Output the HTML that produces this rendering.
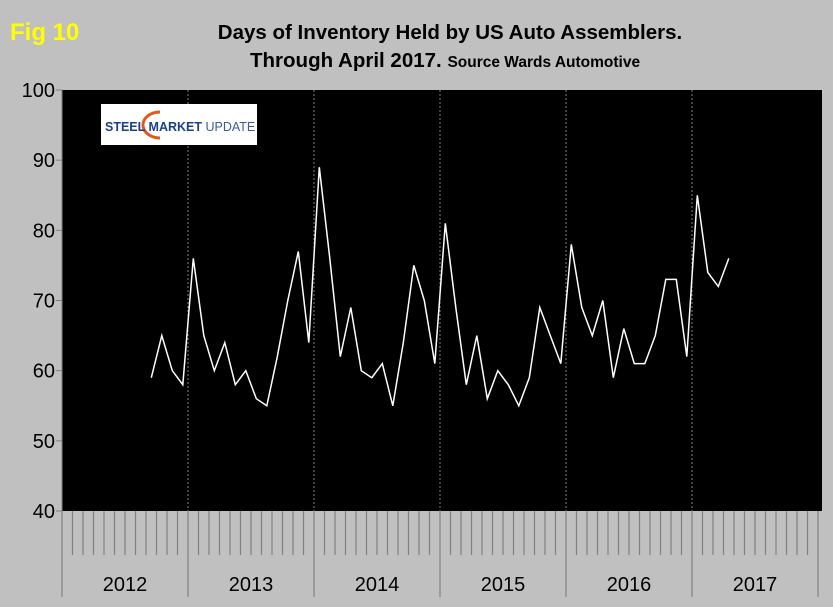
<!DOCTYPE html>
<html><head><meta charset="utf-8"><style>
body{margin:0;background:#c0c0c0;}
svg{display:block;font-family:"Liberation Sans",Arial,sans-serif;}
</style></head><body>
<svg id="chart" width="833" height="607">
<rect x="0" y="0" width="833" height="607" fill="#c0c0c0"/>
<text x="10" y="40" font-size="24" font-weight="bold" fill="#ffff00">Fig 10</text>
<text x="450" y="39" font-size="20.5" font-weight="bold" text-anchor="middle" fill="#000">Days of Inventory Held by US Auto Assemblers.</text>
<text x="250" y="67" font-size="20.5" font-weight="bold" fill="#000">Through April 2017. <tspan font-size="15.5">Source Wards Automotive</tspan></text>
<rect x="62" y="90" width="760" height="421" fill="#000"/>
<g id="yaxis"></g>
<g id="xaxis"></g>
<g>
<rect x="101" y="104" width="156" height="41" fill="#fff"/>
<path d="M160 112 A17 13 0 1 0 160 138" fill="none" stroke="#e05a1e" stroke-width="3"/>
<text x="105" y="131" font-size="12.5" font-weight="bold" fill="#1b3f8f">STEEL <tspan font-weight="bold">MARKET</tspan> <tspan font-weight="normal" fill="#3a5aa8">UPDATE</tspan></text>
</g>
<polyline id="series" fill="none" stroke="#fff" stroke-width="1.5"/>
</svg>
<script>
const years = ["2012","2013","2014","2015","2016","2017"];
const yTicks = [40,50,60,70,80,90,100];
const startMonth = 8; // Sep 2012 index
const values = [59,65,60,58, 76,65,60,64,58,60,56,55,62,70,77,64, 89,76,62,69,60,59,61,55,64,75,70,61, 81,69,58,65,56,60,58,55,59,69,65,61, 78,69,65,70,59,66,61,61,65,73,73,62, 85,74,72,76];
const NS="http://www.w3.org/2000/svg";
const x0=62, mw=10.5, yTop=90, yBot=511, vMin=40, vMax=100;
const yS=v=>yBot-(v-vMin)/(vMax-vMin)*(yBot-yTop);
const xS=i=>x0+mw*(i+0.5);
const ya=document.getElementById('yaxis'), xa=document.getElementById('xaxis');
function mk(tag,attrs,parent){const e=document.createElementNS(NS,tag);for(const k in attrs)e.setAttribute(k,attrs[k]);parent.appendChild(e);return e;}
yTicks.forEach(v=>{
  const t=mk('text',{x:55,y:yS(v)+7,'font-size':20,'text-anchor':'end',fill:'#000'},ya);
  t.textContent=v;
  
  
  mk('line',{x1:56,x2:62,y1:yS(v),y2:yS(v),stroke:'#808080'},ya);
});
mk('line',{x1:62,x2:62,y1:yTop,y2:yBot,stroke:'#808080'},ya);
const nMonths=years.length*12;
for(let k=0;k<=nMonths;k++){
  const x=x0+mw*k;
  if(k%12===0){
    mk('line',{x1:x,x2:x,y1:511,y2:597,stroke:'#808080','stroke-width':1.2},xa);
    if(k>0&&k<nMonths) mk('line',{x1:x,x2:x,y1:yTop,y2:yBot,stroke:'#808080','stroke-dasharray':'2,2'},xa);
  } else {
    mk('line',{x1:x,x2:x,y1:511,y2:555,stroke:'#808080','stroke-width':1.2},xa);
  }
}
years.forEach((y,i)=>{
  const t=mk('text',{x:x0+mw*(i*12+6),y:591,'font-size':20,'text-anchor':'middle',fill:'#000'},xa);
  t.textContent=y;
  
  
});
document.getElementById('series').setAttribute('points',values.map((v,i)=>xS(startMonth+i).toFixed(1)+','+yS(v).toFixed(1)).join(' '));
</script>
</body></html>
